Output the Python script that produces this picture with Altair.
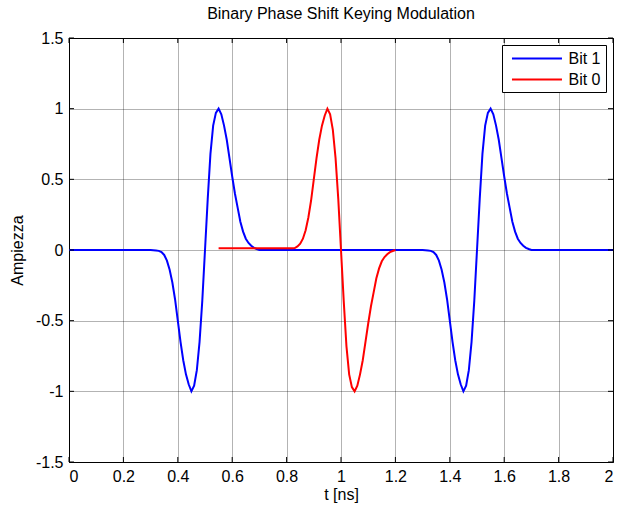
import altair as alt
import pandas as pd

# ---------------- data ----------------
x_ticks = [0, 0.2, 0.4, 0.6, 0.8, 1, 1.2, 1.4, 1.6, 1.8, 2]
y_ticks = [-1.5, -1, -0.5, 0, 0.5, 1, 1.5]

bit1_t = [0.0,
          0.30, 0.31, 0.32, 0.33, 0.34, 0.35, 0.36, 0.37, 0.38, 0.39,
          0.40, 0.41, 0.42, 0.43, 0.44, 0.45, 0.46, 0.47, 0.48, 0.49,
          0.50, 0.51, 0.52, 0.53, 0.54, 0.55, 0.56, 0.57, 0.58, 0.59,
          0.60, 0.61, 0.62, 0.63, 0.64, 0.65, 0.66, 0.67, 0.68, 0.69, 0.70,
          1.30, 1.31, 1.32, 1.33, 1.34, 1.35, 1.36, 1.37, 1.38, 1.39,
          1.40, 1.41, 1.42, 1.43, 1.44, 1.45, 1.46, 1.47, 1.48, 1.49,
          1.50, 1.51, 1.52, 1.53, 1.54, 1.55, 1.56, 1.57, 1.58, 1.59,
          1.60, 1.61, 1.62, 1.63, 1.64, 1.65, 1.66, 1.67, 1.68, 1.69, 1.70,
          2.0]
bit1_v = [0.0,
          0, -0.001, -0.003, -0.006, -0.015, -0.035, -0.075, -0.14, -0.23, -0.35,
          -0.50, -0.65, -0.78, -0.88, -0.95, -1.0, -0.96, -0.85, -0.65, -0.36,
          0, 0.36, 0.68, 0.88, 0.97, 1.0, 0.96, 0.88, 0.78, 0.65,
          0.52, 0.40, 0.30, 0.20, 0.13, 0.08, 0.05, 0.03, 0.015, 0.007, 0,
          0, -0.001, -0.003, -0.006, -0.015, -0.035, -0.075, -0.14, -0.23, -0.35,
          -0.50, -0.65, -0.78, -0.88, -0.95, -1.0, -0.96, -0.85, -0.65, -0.36,
          0, 0.36, 0.68, 0.88, 0.97, 1.0, 0.96, 0.88, 0.78, 0.65,
          0.52, 0.40, 0.30, 0.20, 0.13, 0.08, 0.05, 0.03, 0.015, 0.007, 0,
          0.0]

bit0_t = [0.55,
          0.80, 0.81, 0.82, 0.83, 0.84, 0.85, 0.86, 0.87, 0.88, 0.89,
          0.90, 0.91, 0.92, 0.93, 0.94, 0.95, 0.96, 0.97, 0.98, 0.99,
          1.00, 1.01, 1.02, 1.03, 1.04, 1.05, 1.06, 1.07, 1.08, 1.09,
          1.10, 1.11, 1.12, 1.13, 1.14, 1.15, 1.16, 1.17, 1.18, 1.19, 1.20]
bit0_v = [0.012,
          0.012, 0.012, 0.012, 0.014, 0.025, 0.045, 0.08, 0.14, 0.23, 0.35,
          0.50, 0.65, 0.78, 0.88, 0.95, 1.0, 0.96, 0.85, 0.65, 0.36,
          0, -0.36, -0.68, -0.88, -0.97, -1.0, -0.96, -0.88, -0.78, -0.65,
          -0.52, -0.40, -0.30, -0.20, -0.13, -0.08, -0.05, -0.03, -0.015, -0.007, 0]

series_names = ["Bit 1", "Bit 0"]
series_colors = ["#0000ff", "#ff0000"]

# ---------------- tables ----------------
df1 = pd.DataFrame({"t": bit1_t, "v": bit1_v, "series": series_names[0], "i": range(len(bit1_t))})
df0 = pd.DataFrame({"t": bit0_t, "v": bit0_v, "series": series_names[1], "i": range(len(bit0_t))})
xt = pd.DataFrame({"t": x_ticks})
yt = pd.DataFrame({"v": y_ticks})

W, H = 544, 424
FONT = "Liberation Sans"
TL = 5  # inward tick length

xscale = alt.Scale(domain=[0, 2], nice=False, zero=False)
yscale = alt.Scale(domain=[-1.5, 1.5], nice=False, zero=False)

color = alt.Color(
    "series:N",
    scale=alt.Scale(domain=series_names, range=series_colors),
    legend=alt.Legend(
        title=None,
        orient="none",
        legendX=433,
        legendY=7,
        symbolType="M-0.44,0H5.81",
        symbolSize=256,
        symbolStrokeWidth=2,
        labelFont=FONT,
        labelFontSize=16,
        labelColor="black",
        labelOffset=44,
        padding=4.5,
        rowPadding=4,
        strokeColor="black",
        fillColor="white",
        cornerRadius=0,
    ),
)

x_enc = alt.X(
    "t:Q",
    scale=xscale,
    title="t [ns]",
    axis=alt.Axis(values=x_ticks, labelExpr="datum.value + ''", grid=True),
)
y_enc = alt.Y(
    "v:Q",
    scale=yscale,
    title="Ampiezza",
    axis=alt.Axis(values=y_ticks, labelExpr="datum.value + ''", grid=True),
)

line1 = alt.Chart(df1).mark_line(strokeWidth=2, clip=True).encode(
    x=x_enc, y=y_enc, color=color, order="i:Q"
)
line0 = alt.Chart(df0).mark_line(strokeWidth=2, clip=True).encode(
    x=x_enc, y=y_enc, color=color, order="i:Q"
)

tick_bottom = alt.Chart(xt).mark_rule(color="black", strokeWidth=1).encode(
    x=x_enc, y=alt.value(H - TL), y2=alt.value(H)
)
tick_top = alt.Chart(xt).mark_rule(color="black", strokeWidth=1).encode(
    x=x_enc, y=alt.value(0), y2=alt.value(TL)
)
tick_left = alt.Chart(yt).mark_rule(color="black", strokeWidth=1).encode(
    y=y_enc, x=alt.value(0), x2=alt.value(TL)
)
tick_right = alt.Chart(yt).mark_rule(color="black", strokeWidth=1).encode(
    y=y_enc, x=alt.value(W - TL), x2=alt.value(W)
)

chart = (
    alt.layer(line1, line0, tick_bottom, tick_top, tick_left, tick_right)
    .properties(
        width=W,
        height=H,
        title=alt.Title(
            "Binary Phase Shift Keying Modulation",
            font=FONT,
            fontSize=16,
            fontWeight="normal",
            color="black",
            anchor="middle",
            baseline="bottom",
            offset=13,
            dy=21,
        ),
        autosize=alt.AutoSizeParams(type="none"),
        padding={"left": 69, "top": 38, "right": 6, "bottom": 44},
        background="white",
    )
    .configure_view(stroke="black", strokeWidth=1)
    .configure_axis(
        domainColor="black",
        domainWidth=1,
        ticks=False,
        tickSize=0,
        labelFont=FONT,
        labelFontSize=16,
        labelColor="black",
        titleFont=FONT,
        titleFontSize=16,
        titleFontWeight="normal",
        titleColor="black",
        gridColor="black",
        gridOpacity=0.6,
        gridDash=[1, 1],
        gridWidth=1,
    )
    .configure_axisX(labelPadding=6, titlePadding=2)
    .configure_axisY(labelPadding=6, titlePadding=10)
)

chart.save("out.html", embed_options={"renderer": "svg", "actions": False})
